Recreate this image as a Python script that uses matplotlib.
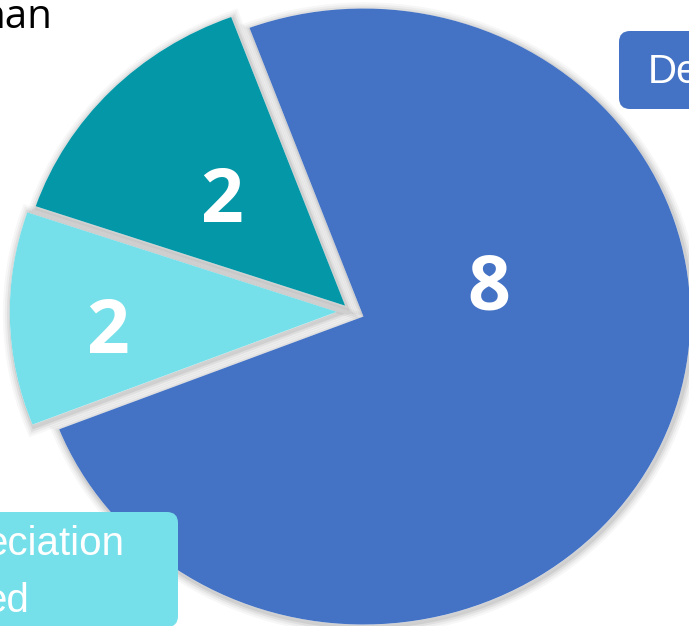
import matplotlib
matplotlib.use('Agg')
import matplotlib.pyplot as plt
import matplotlib.patheffects as pe
from matplotlib.patches import FancyBboxPatch

# slice shares (blue, light cyan, teal) and the labels printed on them
shares = [74.7, 11.2, 14.1]
value_labels = ['8', '2', '2']
slice_colors = ['#4472C4', '#76E0EA', '#0397A7']
explode = [0.04, 0.045, 0.027]

# visible bits of the cropped category labels
title_part = 'han'
blue_label_part = 'De'
cyan_label_parts = ['eciation', 'ed']

fig = plt.figure(figsize=(6.89, 6.26), dpi=100)
ax = fig.add_axes([0, 0, 1, 1])

# soft shadow: a white copy of the pie with blurred-looking strokes, drawn underneath
shadow_fx = [pe.Stroke(offset=(1, -1.5), linewidth=lw, foreground='black', alpha=a)
             for lw, a in [(12, 0.03), (9, 0.04), (6, 0.055), (3, 0.07)]]
ax.pie(shares, explode=explode, colors=['white'] * 3, startangle=110.4,
       counterclock=False,
       wedgeprops=dict(linewidth=0, path_effects=shadow_fx + [pe.Normal()], zorder=1))
wedges, _ = ax.pie(shares, explode=explode, colors=slice_colors, startangle=110.4,
                   counterclock=False, wedgeprops=dict(linewidth=0, zorder=2))

# the pie is a bit wider than tall in the picture, so keep the aspect free
cx, cy = 351.5, 311.5
ax.set_aspect('auto')
ax.set_xlim(-cx / 327, (689 - cx) / 327)
ax.set_ylim(-(626 - cy) / 308, cy / 308)
ax.axis('off')

# overlay in pixel coordinates for the text and the label boxes
ov = fig.add_axes([0, 0, 1, 1], facecolor='none')
ov.set_xlim(0, 689)
ov.set_ylim(626, 0)
ov.axis('off')

num_font = dict(family=['Open Sans', 'DejaVu Sans'], fontweight='bold', fontsize=54,
                color='white', ha='center', va='baseline')
label_xy = [(489, 309), (108, 353), (222, 222)]
for (x, y), txt in zip(label_xy, value_labels):
    ov.text(x, y, txt, **num_font)

ov.text(52, 28, title_part, family=['Open Sans', 'DejaVu Sans'], fontsize=29,
        color='black', ha='right', va='baseline')

ov.add_patch(FancyBboxPatch((619, 31), 120, 78, boxstyle='round,pad=0,rounding_size=11',
                            facecolor=slice_colors[0], edgecolor='none'))
ov.text(648, 83, blue_label_part, family=['Liberation Sans', 'DejaVu Sans'], fontsize=29,
        color='white', ha='left', va='baseline')

ov.add_patch(FancyBboxPatch((-30, 512), 208, 115, boxstyle='round,pad=0,rounding_size=11',
                            facecolor=slice_colors[1], edgecolor='none'))
for (x, y), txt in zip([(-15, 555), (-16, 612)], cyan_label_parts):
    ov.text(x, y, txt, family=['Liberation Sans', 'DejaVu Sans'], fontsize=29,
            color='white', ha='left', va='baseline')

fig.savefig('out.png', dpi=100)
